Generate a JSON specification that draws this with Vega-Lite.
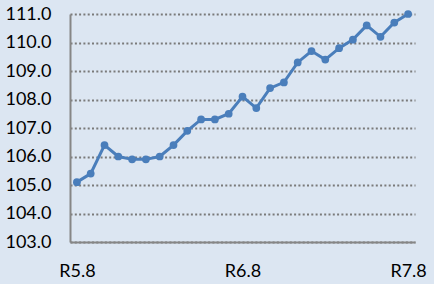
{
  "$schema": "https://vega.github.io/schema/vega-lite/v6.json",
  "width": 345,
  "height": 228,
  "autosize": {"type": "none"},
  "padding": {"left": 70, "top": 14, "right": 19, "bottom": 42},
  "background": "#dce6f2",
  "config": {
    "view": {"stroke": null},
    "font": "Lato",
    "axis": {"labelFont": "Lato", "labelFontSize": 18, "labelColor": "#000000"}
  },
  "data": {
    "values": [
      {"m": "R5.8", "v": 105.1},
      {"m": "R5.9", "v": 105.4},
      {"m": "R5.10", "v": 106.4},
      {"m": "R5.11", "v": 106.0},
      {"m": "R5.12", "v": 105.9},
      {"m": "R6.1", "v": 105.9},
      {"m": "R6.2", "v": 106.0},
      {"m": "R6.3", "v": 106.4},
      {"m": "R6.4", "v": 106.9},
      {"m": "R6.5", "v": 107.3},
      {"m": "R6.6", "v": 107.3},
      {"m": "R6.7", "v": 107.5},
      {"m": "R6.8", "v": 108.1},
      {"m": "R6.9", "v": 107.7},
      {"m": "R6.10", "v": 108.4},
      {"m": "R6.11", "v": 108.6},
      {"m": "R6.12", "v": 109.3},
      {"m": "R7.1", "v": 109.7},
      {"m": "R7.2", "v": 109.4},
      {"m": "R7.3", "v": 109.8},
      {"m": "R7.4", "v": 110.1},
      {"m": "R7.5", "v": 110.6},
      {"m": "R7.6", "v": 110.2},
      {"m": "R7.7", "v": 110.7},
      {"m": "R7.8", "v": 111.0}
    ]
  },
  "encoding": {
    "x": {
      "field": "m",
      "type": "ordinal",
      "sort": null,
      "scale": {"type": "point", "padding": 0.5},
      "axis": {
        "title": null,
        "values": ["R5.8", "R6.8", "R7.8"],
        "labelAngle": 0,
        "ticks": false,
        "grid": false,
        "domainColor": "#868686",
        "domainWidth": 2,
        "labelPadding": 20
      }
    },
    "y": {
      "field": "v",
      "type": "quantitative",
      "scale": {"domain": [103, 111], "nice": false, "zero": false},
      "axis": {
        "title": null,
        "values": [103, 104, 105, 106, 107, 108, 109, 110, 111],
        "format": ".1f",
        "ticks": false,
        "grid": true,
        "gridColor": "#7a7a7a",
        "gridDash": [2, 2.3],
        "gridWidth": 2,
        "domainColor": "#868686",
        "domainWidth": 2,
        "labelPadding": 19
      }
    }
  },
  "layer": [
    {"mark": {"type": "line", "color": "#4a7ebb", "strokeWidth": 3}},
    {"mark": {"type": "point", "filled": true, "opacity": 1, "color": "#4a7ebb", "size": 60}}
  ]
}
